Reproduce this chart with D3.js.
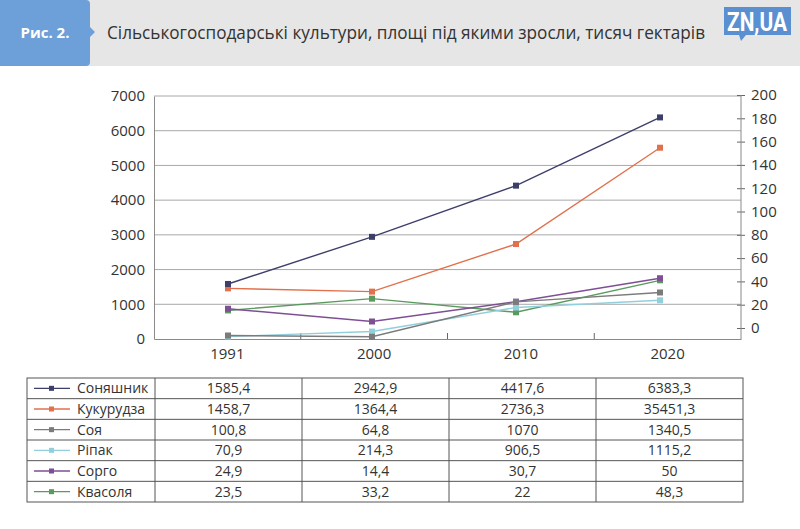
<!DOCTYPE html>
<html><head><meta charset="utf-8">
<script src="https://cdn.jsdelivr.net/npm/d3@7"></script>
<style>
html,body{margin:0;padding:0;background:#fff;}
svg{display:block;font-family:"Open Sans","Noto Sans",sans-serif;}
</style></head>
<body><svg id="c" width="800" height="529"></svg>
<script>
const years = ["1991","2000","2010","2020"];
const seriesNames = ["Соняшник","Кукурудза","Соя","Ріпак","Сорго","Квасоля"];
const seriesColors = ["#3d3f6b","#e2704c","#7b7b7b","#92cfdc","#7e4f94","#5b9a5e"];
const seriesAxis = ["left","left","left","left","right","right"];
// plotted values
const sunflower = [1585.4, 2942.9, 4417.6, 6383.3];
const corn = [1458.7, 1364.4, 2736.3, 5510];
const soy = [100.8, 64.8, 1070, 1340.5];
const rapeseed = [70.9, 214.3, 906.5, 1115.2];
const sorghum = [24.9, 14.4, 30.7, 50];
const beans = [23.5, 33.2, 22, 48.3];
const seriesValues = [sunflower, corn, soy, rapeseed, sorghum, beans];
// table text exactly as printed
const tableText = [
  ["1585,4","2942,9","4417,6","6383,3"],
  ["1458,7","1364,4","2736,3","35451,3"],
  ["100,8","64,8","1070","1340,5"],
  ["70,9","214,3","906,5","1115,2"],
  ["24,9","14,4","30,7","50"],
  ["23,5","33,2","22","48,3"]
];
const leftTicks = [0,1000,2000,3000,4000,5000,6000,7000];
const rightTicks = [0,20,40,60,80,100,120,140,160,180,200];
const titleText = "Сільськогосподарські культури, площі під якими зросли, тисяч гектарів";
const figLabel = "Рис. 2.";

const svg = d3.select("#c");

// header
svg.append("rect").attr("x",0).attr("y",0).attr("width",800).attr("height",66).attr("fill","#e6e6e6");
svg.append("path").attr("d","M0,0 H86 Q90,0 90,4 V27 L95,32 L90,37 V62 Q90,66 86,66 H0 Z").attr("fill","#6d9fd8");
svg.append("text").attr("x",45).attr("y",38).attr("text-anchor","middle").attr("fill","#fff")
  .attr("font-size",15).attr("font-weight","bold").text(figLabel);
svg.append("text").attr("x",107).attr("y",39).attr("fill","#333").attr("font-size",18)
  .attr("textLength",598).attr("lengthAdjust","spacingAndGlyphs").text(titleText);
// logo
svg.append("path").attr("d","M724,7 H791 V35 H746 L741,41 L739,35 H724 Z").attr("fill","#5a8fd2");
svg.append("text").attr("x",757).attr("y",31).attr("text-anchor","middle").attr("fill","#fff")
  .attr("font-size",25).attr("font-weight","bold").attr("font-family","'Liberation Sans Narrow','Roboto',sans-serif")
  .attr("textLength",60).attr("lengthAdjust","spacingAndGlyphs").text("ZN,UA");

// scales
const x = d3.scalePoint().domain(years).range([228,660]);
const xBand = d3.scaleBand().domain(years).range([154,741]);
const yL = d3.scaleLinear().domain([0,7000]).range([339,96]);
const yR = d3.scaleLinear().domain([0,200]).range([339,96]);
const yRAxis = d3.scaleLinear().domain([0,200]).range([328,95]);

// gridlines
svg.append("g").selectAll("line").data(leftTicks.filter(d=>d>0)).join("line")
  .attr("x1",154).attr("x2",741).attr("y1",d=>yL(d)).attr("y2",d=>yL(d))
  .attr("stroke","#a8a8a8").attr("stroke-width",1);

// left axis
const gl = svg.append("g").attr("transform","translate(154,0)")
  .call(d3.axisLeft(yL).tickValues(leftTicks).tickSize(0).tickPadding(9).tickFormat(d3.format("d")));
gl.select(".domain").attr("stroke","#8a8a8a");
gl.selectAll("text").attr("font-size",15).attr("fill","#333").attr("font-family","'Open Sans','Noto Sans',sans-serif");

// right axis
const gr = svg.append("g").attr("transform","translate(741,0)")
  .call(d3.axisRight(yRAxis).tickValues(rightTicks).tickSizeInner(4).tickSizeOuter(0).tickPadding(6));
gr.select(".domain").remove();
gr.selectAll(".tick line").attr("x1",-4).attr("stroke","#666");
gr.selectAll("text").attr("font-size",15).attr("fill","#333").attr("font-family","'Open Sans','Noto Sans',sans-serif");
svg.append("line").attr("x1",741).attr("x2",741).attr("y1",95).attr("y2",339).attr("stroke","#8a8a8a");

// bottom axis
const gb = svg.append("g").attr("transform","translate(0,339)")
  .call(d3.axisBottom(xBand).tickSize(0).tickPadding(9));
gb.select(".domain").attr("stroke","#8a8a8a");
gb.selectAll("text").attr("font-size",15).attr("fill","#333").attr("font-family","'Open Sans','Noto Sans',sans-serif");
svg.append("g").selectAll("line").data(years.slice(1)).join("line")
  .attr("x1",d=>xBand(d)).attr("x2",d=>xBand(d)).attr("y1",333).attr("y2",339)
  .attr("stroke","#666");

// series
const order = [5,4,3,2,1,0];
order.forEach(i=>{
  const ys = seriesAxis[i]==="left"?yL:yR;
  const pts = seriesValues[i].map((v,j)=>[x(years[j]),ys(v)]);
  svg.append("path").attr("d",d3.line()(pts)).attr("fill","none")
    .attr("stroke",seriesColors[i]).attr("stroke-width",1.4);
  svg.append("g").selectAll("rect").data(pts).join("rect")
    .attr("x",d=>d[0]-3).attr("y",d=>d[1]-3).attr("width",6).attr("height",6)
    .attr("fill",seriesColors[i]);
});

// table
const tx = d3.scaleBand().domain(years).range([155,743]);
const ty = d3.scaleBand().domain(seriesNames).range([378,502]);
const tb = svg.append("g");
tb.append("rect").attr("x",27).attr("y",378).attr("width",716).attr("height",124)
  .attr("fill","none").attr("stroke","#555").attr("stroke-width",1);
tb.selectAll(".hl").data(seriesNames.slice(1)).join("line")
  .attr("x1",27).attr("x2",743).attr("y1",d=>ty(d)).attr("y2",d=>ty(d)).attr("stroke","#555");
tb.selectAll(".vl").data(years).join("line")
  .attr("x1",d=>tx(d)).attr("x2",d=>tx(d)).attr("y1",378).attr("y2",502).attr("stroke","#555");
seriesNames.forEach((n,i)=>{
  const cy = ty(n)+ty.bandwidth()/2;
  tb.append("line").attr("x1",34).attr("x2",70).attr("y1",cy).attr("y2",cy)
    .attr("stroke",seriesColors[i]).attr("stroke-width",1.4);
  tb.append("rect").attr("x",49).attr("y",cy-2.5).attr("width",5).attr("height",5).attr("fill",seriesColors[i]);
  tb.append("text").attr("x",77).attr("y",cy+5).attr("font-size",14).attr("fill","#333").text(n);
  years.forEach((yr,j)=>{
    tb.append("text").attr("x",tx(yr)+tx.bandwidth()/2).attr("y",cy+5).attr("text-anchor","middle")
      .attr("font-size",14).attr("fill","#333").text(tableText[i][j]);
  });
});
</script></body></html>
